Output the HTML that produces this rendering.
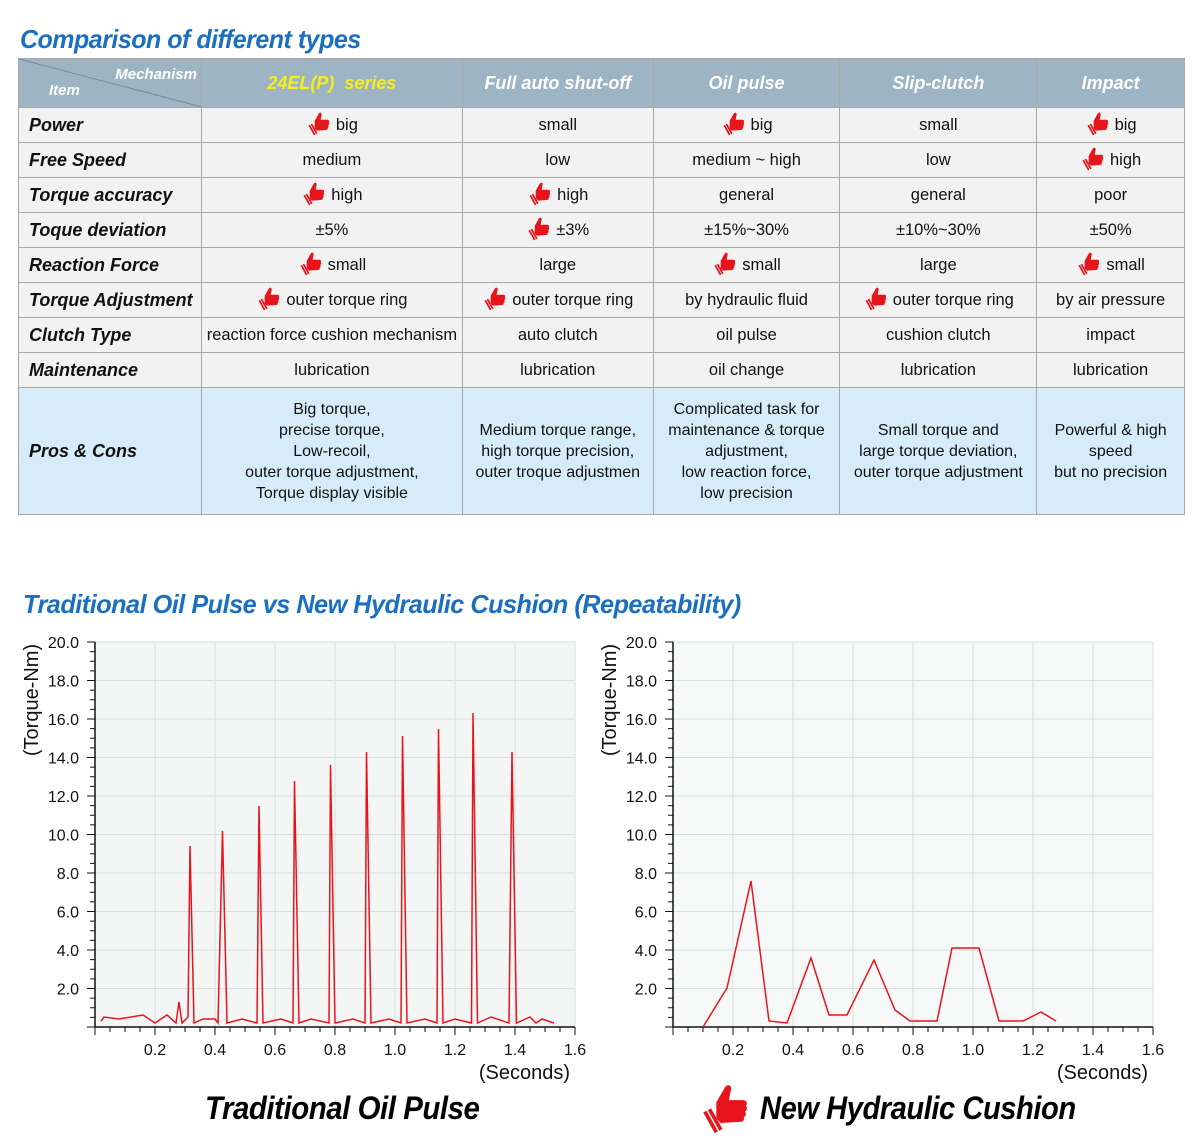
<!DOCTYPE html>
<html><head><meta charset="utf-8">
<style>
body{margin:0;width:1200px;height:1136px;background:#fff;position:relative;overflow:hidden;font-family:"Liberation Sans",sans-serif}
.h{position:absolute;color:#1a6fc0;font-weight:bold;font-style:italic;font-size:26px;letter-spacing:-0.5px;transform-origin:0 0;white-space:nowrap}
table{position:absolute;left:18px;top:58px;border-collapse:collapse;width:1167px}
td{border:1px solid #a8a8a8;text-align:center;font-size:16.5px;color:#111;padding:0;height:34px;line-height:20px;background:#f2f2f2;white-space:nowrap}
tr td:first-child{text-align:left;padding-left:10px;font-weight:bold;font-style:italic;font-size:18px;background:#f2f2f2}
tr.hd td{background:#9cb4c4;color:#fff;font-weight:bold;font-style:italic;font-size:18px;height:48px}
tr.pc td{background:#d6ecf8;height:126px;font-size:16px;line-height:21px}
tr.pc td:first-child{font-size:18px}
.t{display:inline-block;width:26px;height:26px;vertical-align:top;margin-top:-5px;margin-right:4px}
.ct{position:absolute;font-weight:bold;font-style:italic;font-size:32px;color:#000;letter-spacing:-0.5px;transform-origin:0 0;white-space:nowrap}
</style></head><body>
<div class="h" style="left:20px;top:24px;transform:scaleX(0.96)">Comparison of different types</div>
<table>
<colgroup><col style="width:183px"><col style="width:261px"><col style="width:191px"><col style="width:187px"><col style="width:197px"><col style="width:148px"></colgroup>
<tr class="hd"><td style="background:#9cb4c4;position:relative;padding:0"><svg width="183" height="48" style="position:absolute;left:0;top:0"><line x1="0" y1="0" x2="183" y2="48" stroke="#7a8a96" stroke-width="1"/></svg><span style="position:absolute;right:4px;top:6px;font-size:15px;color:#fff">Mechanism</span><span style="position:absolute;left:30px;top:22px;font-size:15px;color:#fff">Item</span></td><td style="color:#f5ee1c">24EL(P)&nbsp; series</td><td>Full auto shut-off</td><td>Oil pulse</td><td>Slip-clutch</td><td>Impact</td></tr>
<tr><td>Power</td><td><span class="t"></span>big</td><td>small</td><td><span class="t"></span>big</td><td>small</td><td><span class="t"></span>big</td></tr>
<tr><td>Free Speed</td><td>medium</td><td>low</td><td>medium ~ high</td><td>low</td><td><span class="t"></span>high</td></tr>
<tr><td>Torque accuracy</td><td><span class="t"></span>high</td><td><span class="t"></span>high</td><td>general</td><td>general</td><td>poor</td></tr>
<tr><td>Toque deviation</td><td>±5%</td><td><span class="t"></span>±3%</td><td>±15%~30%</td><td>±10%~30%</td><td>±50%</td></tr>
<tr><td>Reaction Force</td><td><span class="t"></span>small</td><td>large</td><td><span class="t"></span>small</td><td>large</td><td><span class="t"></span>small</td></tr>
<tr><td>Torque Adjustment</td><td><span class="t"></span>outer torque ring</td><td><span class="t"></span>outer torque ring</td><td>by hydraulic fluid</td><td><span class="t"></span>outer torque ring</td><td>by air pressure</td></tr>
<tr><td>Clutch Type</td><td>reaction force cushion mechanism</td><td>auto clutch</td><td>oil pulse</td><td>cushion clutch</td><td>impact</td></tr>
<tr><td>Maintenance</td><td>lubrication</td><td>lubrication</td><td>oil change</td><td>lubrication</td><td>lubrication</td></tr>
<tr class="pc"><td style="background:#d6ecf8">Pros &amp; Cons</td><td>Big torque,<br>precise torque,<br>Low-recoil,<br>outer torque adjustment,<br>Torque display visible</td><td>Medium torque range,<br>high torque precision,<br>outer troque adjustmen</td><td>Complicated task for<br>maintenance &amp; torque<br>adjustment,<br>low reaction force,<br>low precision</td><td>Small torque and<br>large torque deviation,<br>outer torque adjustment</td><td>Powerful &amp; high<br>speed<br>but no precision</td></tr>
</table>
<div class="h" style="left:23px;top:589px;transform:scaleX(0.97)">Traditional Oil Pulse vs New Hydraulic Cushion (Repeatability)</div>
<svg id="ch" width="1200" height="1136" style="position:absolute;left:0;top:0" font-family="Liberation Sans, sans-serif"></svg>
<div class="ct" style="left:205px;top:1090px;transform:scaleX(0.92)">Traditional Oil Pulse</div>
<div class="ct" style="left:760px;top:1090px;transform:scaleX(0.91)">New Hydraulic Cushion</div>
<svg style="position:absolute;left:698px;top:1078px" width="55" height="58" viewBox="0 0 24 24"><path d="M8 10 L12 3 Q14 1.5 14.5 4 L13.5 9 L20 9 Q22 9.5 21 11.5 Q22 13 20.5 14 Q21.5 15.5 20 16.5 Q20.5 18.5 18 18.5 L10 19 L8 17 Z" fill="#e8141c"/><path d="M3 14 L8 23 M5 13 L10 22" stroke="#e8141c" stroke-width="1.6"/></svg>
<script>
var TH='<svg viewBox="0 0 24 24" width="26" height="26"><path d="M8 10 L12 3 Q14 1.5 14.5 4 L13.5 9 L20 9 Q22 9.5 21 11.5 Q22 13 20.5 14 Q21.5 15.5 20 16.5 Q20.5 18.5 18 18.5 L10 19 L8 17 Z" fill="#e8141c"/><path d="M3 14 L8 23 M5 13 L10 22" stroke="#e8141c" stroke-width="1.6"/></svg>';
document.querySelectorAll('.t').forEach(function(e){e.innerHTML=TH;});
var s='';
function chart(x0,bg){
 var top=642,bot=1027,r=x0+480;
 s+='<rect x="'+x0+'" y="'+top+'" width="480" height="'+(bot-top)+'" fill="'+bg+'"/>';
 for(var i=1;i<=8;i++){var x=x0+i*60;s+='<line x1="'+x+'" y1="'+top+'" x2="'+x+'" y2="'+bot+'" stroke="#d4e0de"/>';}
 for(var v=2;v<=20;v+=2){var y=bot-v*19.25;s+='<line x1="'+x0+'" y1="'+y+'" x2="'+r+'" y2="'+y+'" stroke="#d4e0de"/>';
  s+='<text x="'+(x0-16)+'" y="'+(y+6)+'" font-size="16" text-anchor="end" fill="#111">'+v.toFixed(1)+'</text>';}
 for(var v=0;v<=40;v++){var y=bot-v*9.625;s+='<line x1="'+(x0-(v%4==0?8:5))+'" y1="'+y+'" x2="'+x0+'" y2="'+y+'" stroke="#111"/>';}
 for(var i=0;i<=32;i++){var x=x0+i*15;s+='<line x1="'+x+'" y1="'+bot+'" x2="'+x+'" y2="'+(bot+(i%4==0?8:5))+'" stroke="#111"/>';}
 for(var i=1;i<=8;i++){s+='<text x="'+(x0+i*60)+'" y="'+(bot+28)+'" font-size="16" text-anchor="middle" fill="#111">'+(i*0.2).toFixed(1)+'</text>';}
 s+='<line x1="'+x0+'" y1="'+top+'" x2="'+x0+'" y2="'+bot+'" stroke="#111" stroke-width="1.5"/>';
 s+='<line x1="'+x0+'" y1="'+bot+'" x2="'+r+'" y2="'+bot+'" stroke="#111" stroke-width="1.5"/>';
 s+='<text x="'+(r-5)+'" y="'+(bot+52)+'" font-size="20" text-anchor="end" fill="#111">(Seconds)</text>';
 s+='<text transform="translate('+(x0-57)+',700) rotate(-90)" font-size="20" text-anchor="middle" fill="#111">(Torque-Nm)</text>';
}
chart(95,'#f4f6f6');chart(673,'#f7f8f8');
s+='<polyline fill="none" stroke="#e8141c" stroke-width="1.5" points="101,1021 104,1017 119,1019 143,1015 155,1023 167,1015 176,1023 179,1002 182,1023 188,1017 190,846 194,1023 203,1019 215,1019 218,1023 222.5,831 227,1023 242,1019 257,1023 259,806 263,1023 281,1019 293,1023 294.5,781 299,1023 311,1019 329,1023 330.5,765 335,1023 353,1019 365,1023 366.5,752 371,1023 389,1019 401,1023 402.5,736 407,1023 425,1019 437,1023 438.5,729 443,1023 455,1019 471.5,1023 473,713 477.5,1023 491,1017 509,1023 512,752 516.5,1023 530,1017 536,1023 542,1019 554,1023"/>';
s+='<polyline fill="none" stroke="#e8141c" stroke-width="1.5" points="703,1027 727,988 751,881 769,1021 787,1023 811,958 829,1015 847,1015 874,960 895,1010 910,1021 937,1021 952,948 979,948 999,1021 1023,1021 1041,1012 1056,1021"/>';
document.getElementById('ch').innerHTML=s;
</script>
</body></html>
